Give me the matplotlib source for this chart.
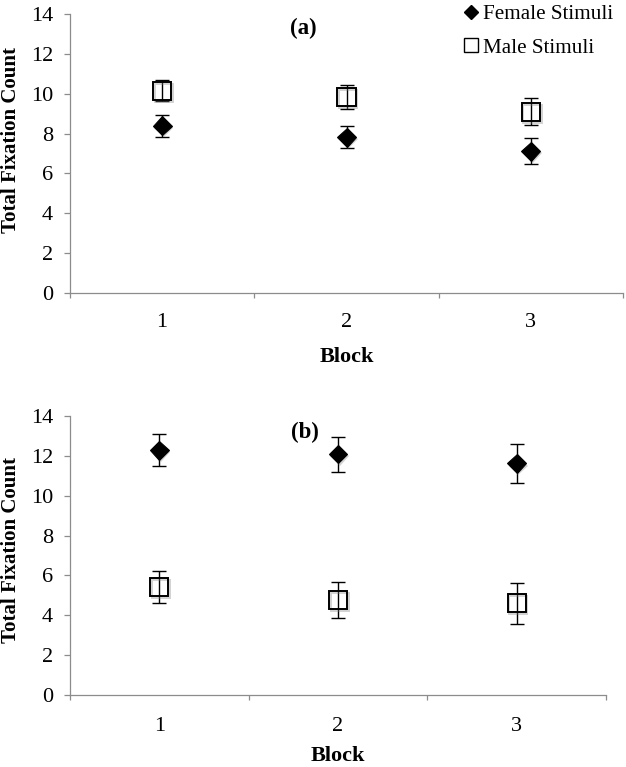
import matplotlib
matplotlib.use('Agg')
import matplotlib.pyplot as plt
from matplotlib.lines import Line2D
import matplotlib.patheffects as pe

plt.rcParams['font.family'] = ['Liberation Serif', 'DejaVu Serif']

# ---- data ----
blocks = [1, 2, 3]
block_labels = ['1', '2', '3']
series_labels = ['Female Stimuli', 'Male Stimuli']

female_a = [8.39, 7.81, 7.12]
female_a_err = [0.54, 0.55, 0.64]
male_a = [10.15, 9.85, 9.10]
male_a_err = [0.53, 0.60, 0.67]

female_b = [12.29, 12.09, 11.62]
female_b_err = [0.82, 0.88, 0.98]
male_b = [5.43, 4.77, 4.60]
male_b_err = [0.79, 0.92, 1.03]

yticks = list(range(0, 15, 2))

# ---- layout ----
W, H = 626, 767
fig = plt.figure(figsize=(W / 100, H / 100), dpi=100)

ax1 = fig.add_axes([70 / W, 1 - 293 / H, 553 / W, 279 / H])
ax2 = fig.add_axes([70 / W, 1 - 695 / H, 536 / W, 279 / H])

GRAY = '#8c8c8c'
sq_shadow = [pe.SimpleLineShadow(offset=(1.2, -1.5), shadow_color='gray', alpha=0.35), pe.Normal()]
di_shadow = [pe.SimplePatchShadow(offset=(1.2, -1.5), shadow_rgbFace='gray', alpha=0.35), pe.Normal()]


def style(ax, xpad):
    for s in ('top', 'right'):
        ax.spines[s].set_visible(False)
    for s in ('left', 'bottom'):
        ax.spines[s].set_color(GRAY)
        ax.spines[s].set_linewidth(0.9)
    ax.set_xlim(0.5, 3.5)
    ax.set_ylim(0, 14)
    ax.set_yticks(yticks)
    ax.set_xticks(blocks)
    ax.set_xticklabels(block_labels)
    ax.set_xticks([0.5, 1.5, 2.5, 3.5], minor=True)
    ax.tick_params(axis='x', which='major', length=0, pad=xpad, labelsize=16)
    ax.tick_params(axis='x', which='minor', length=3.8, width=0.9, color=GRAY, direction='out')
    ax.tick_params(axis='y', which='major', length=4.3, width=0.9, color=GRAY, direction='out',
                   pad=8.0, labelsize=16)


def draw(ax, female, female_err, male, male_err):
    ax.errorbar(blocks, male, yerr=male_err, fmt='none', ecolor='black', elinewidth=1.0,
                capsize=4.7, capthick=1.0, zorder=3)
    ax.errorbar(blocks, female, yerr=female_err, fmt='none', ecolor='black', elinewidth=1.0,
                capsize=4.7, capthick=1.0, zorder=3)
    ax.plot(blocks, male, ls='none', marker='s', ms=13, mfc='none', mec='black', mew=1.4,
            zorder=4, path_effects=sq_shadow)
    ax.plot(blocks, female, ls='none', marker='D', ms=9.6, mfc='black', mec='black', mew=0.8,
            zorder=4, path_effects=di_shadow)


style(ax1, 14.5)
style(ax2, 16)
draw(ax1, female_a, female_a_err, male_a, male_a_err)
draw(ax2, female_b, female_b_err, male_b, male_b_err)

ax1.text(1.764, 13.0, '(a)', ha='center', va='baseline', fontsize=16.5, fontweight='bold')
ax2.text(1.815, 12.9, '(b)', ha='center', va='baseline', fontsize=16.5, fontweight='bold')

# axis titles
fig.text(346.5 / W, 1 - 362 / H, 'Block', ha='center', va='baseline', fontsize=16, fontweight='bold')
fig.text(338 / W, 1 - 761 / H, 'Block', ha='center', va='baseline', fontsize=16, fontweight='bold')
fig.text(11 / W, 1 - 140 / H, 'Total Fixation Count', ha='center', va='center', rotation=90,
         fontsize=15, fontweight='bold')
fig.text(11 / W, 1 - 550 / H, 'Total Fixation Count', ha='center', va='center', rotation=90,
         fontsize=15, fontweight='bold')

# legend
handles = [Line2D([], [], ls='none', marker='D', ms=7, color='black'),
           Line2D([], [], ls='none', marker='s', ms=10, mfc='white', mec='black', mew=1.0)]
fig.legend(handles, series_labels, loc='center left', bbox_to_anchor=(463 / W, 1 - 31 / H),
           frameon=False, fontsize=15.2, handlelength=0.8, handletextpad=0.15, borderpad=0,
           borderaxespad=0, labelspacing=0.65)

fig.savefig('out.png', dpi=100)
